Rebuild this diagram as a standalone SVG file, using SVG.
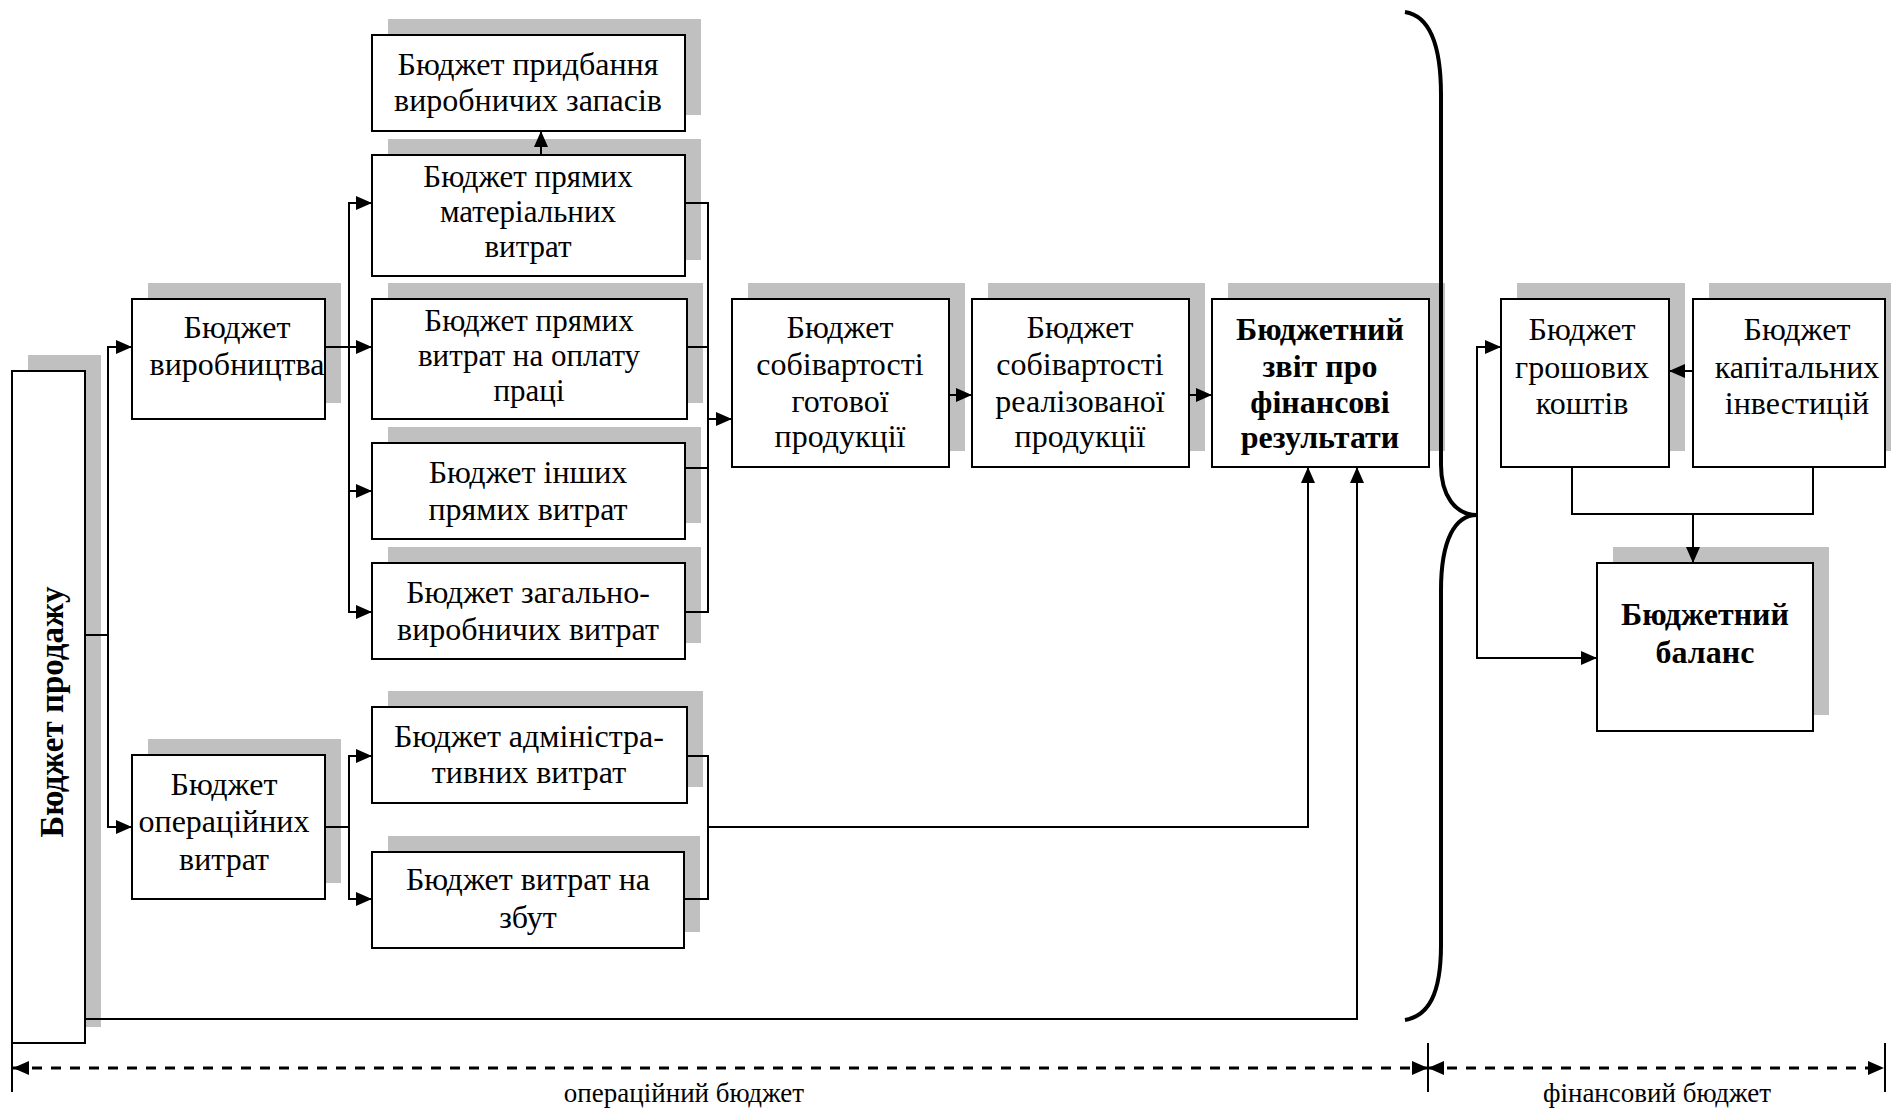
<svg xmlns="http://www.w3.org/2000/svg" width="1891" height="1109" viewBox="0 0 1891 1109">
<style>
.sh{fill:#c0c0c0;stroke:none}
.bx{fill:#fff;stroke:#000;stroke-width:2}
.t{font-family:"Liberation Serif","Times New Roman",serif;font-size:32px;fill:#000;text-anchor:middle}
.s{font-size:31px}
.b{font-weight:bold}
.c{fill:none;stroke:#000;stroke-width:2}
.a{fill:none;stroke:#000;stroke-width:2;marker-end:url(#ar)}
.d{fill:none;stroke:#000;stroke-width:3;stroke-dasharray:10 9;marker-start:url(#ar2);marker-end:url(#ar2)}
.lb{font-family:"Liberation Serif","Times New Roman",serif;font-size:27px;fill:#000;text-anchor:middle}
</style>
<defs>
<marker id="ar" markerUnits="userSpaceOnUse" markerWidth="16" markerHeight="16" viewBox="0 0 16 16" refX="16" refY="8" orient="auto"><path d="M0 1 L16 8 L0 15 Z" fill="#000"/></marker>
<marker id="ar2" markerUnits="userSpaceOnUse" markerWidth="16" markerHeight="16" viewBox="0 0 16 16" refX="16" refY="8" orient="auto-start-reverse"><path d="M0 1 L16 8 L0 15 Z" fill="#000"/></marker>
</defs>

<g id="n-prodazhu"><rect class="sh" x="28" y="355" width="73" height="672"/><rect class="bx" x="12" y="371" width="73" height="672"/><text class="t b" transform="translate(63,712) rotate(-90)" style="font-size:33px">Бюджет продажу</text></g>

<g id="n-vyrobnytstva"><rect class="sh" x="148" y="283" width="193" height="120"/><rect class="bx" x="132" y="299" width="193" height="120"/><text class="t"><tspan x="237" y="338">Бюджет</tspan><tspan x="237" y="375">виробництва</tspan></text></g>

<g id="n-operatsiini"><rect class="sh" x="148" y="739" width="193" height="144"/><rect class="bx" x="132" y="755" width="193" height="144"/><text class="t"><tspan x="224" y="795">Бюджет</tspan><tspan x="224" y="832">операційних</tspan><tspan x="224" y="870">витрат</tspan></text></g>

<g id="n-prydbannia"><rect class="sh" x="388" y="19" width="313" height="96"/><rect class="bx" x="372" y="35" width="313" height="96"/><text class="t"><tspan x="528" y="75">Бюджет придбання</tspan><tspan x="528" y="111">виробничих запасів</tspan></text></g>

<g id="n-materialni"><rect class="sh" x="388" y="139" width="313" height="121"/><rect class="bx" x="372" y="155" width="313" height="121"/><text class="t s"><tspan x="528" y="187">Бюджет прямих</tspan><tspan x="528" y="222">матеріальних</tspan><tspan x="528" y="257">витрат</tspan></text></g>

<g id="n-oplata"><rect class="sh" x="388" y="283" width="315" height="120"/><rect class="bx" x="372" y="299" width="315" height="120"/><text class="t s"><tspan x="529" y="331">Бюджет прямих</tspan><tspan x="529" y="366">витрат на оплату</tspan><tspan x="529" y="401">праці</tspan></text></g>

<g id="n-inshi"><rect class="sh" x="388" y="427" width="313" height="96"/><rect class="bx" x="372" y="443" width="313" height="96"/><text class="t"><tspan x="528" y="483">Бюджет інших</tspan><tspan x="528" y="520">прямих витрат</tspan></text></g>

<g id="n-zahalno"><rect class="sh" x="388" y="547" width="313" height="96"/><rect class="bx" x="372" y="563" width="313" height="96"/><text class="t"><tspan x="528" y="603">Бюджет загально-</tspan><tspan x="528" y="640">виробничих витрат</tspan></text></g>

<g id="n-admin"><rect class="sh" x="388" y="691" width="315" height="96"/><rect class="bx" x="372" y="707" width="315" height="96"/><text class="t"><tspan x="529" y="747">Бюджет адміністра-</tspan><tspan x="529" y="783">тивних витрат</tspan></text></g>

<g id="n-zbut"><rect class="sh" x="388" y="836" width="312" height="96"/><rect class="bx" x="372" y="852" width="312" height="96"/><text class="t"><tspan x="528" y="890">Бюджет витрат на</tspan><tspan x="528" y="928">збут</tspan></text></g>

<g id="n-gotova"><rect class="sh" x="748" y="283" width="217" height="168"/><rect class="bx" x="732" y="299" width="217" height="168"/><text class="t"><tspan x="840" y="338">Бюджет</tspan><tspan x="840" y="375">собівартості</tspan><tspan x="840" y="412">готової</tspan><tspan x="840" y="447">продукції</tspan></text></g>

<g id="n-realizovana"><rect class="sh" x="988" y="283" width="217" height="168"/><rect class="bx" x="972" y="299" width="217" height="168"/><text class="t"><tspan x="1080" y="338">Бюджет</tspan><tspan x="1080" y="375">собівартості</tspan><tspan x="1080" y="412">реалізованої</tspan><tspan x="1080" y="447">продукції</tspan></text></g>

<g id="n-zvit"><rect class="sh" x="1228" y="283" width="217" height="168"/><rect class="bx" x="1212" y="299" width="217" height="168"/><text class="t b"><tspan x="1320" y="340">Бюджетний</tspan><tspan x="1320" y="377">звіт про</tspan><tspan x="1320" y="413">фінансові</tspan><tspan x="1320" y="448">результати</tspan></text></g>

<g id="n-hroshovi"><rect class="sh" x="1517" y="283" width="168" height="168"/><rect class="bx" x="1501" y="299" width="168" height="168"/><text class="t"><tspan x="1582" y="340">Бюджет</tspan><tspan x="1582" y="378">грошових</tspan><tspan x="1582" y="414">коштів</tspan></text></g>

<g id="n-kapitalni"><rect class="sh" x="1709" y="283" width="192" height="168"/><rect class="bx" x="1693" y="299" width="192" height="168"/><text class="t"><tspan x="1797" y="340">Бюджет</tspan><tspan x="1797" y="378">капітальних</tspan><tspan x="1797" y="414">інвестицій</tspan></text></g>

<g id="n-balans"><rect class="sh" x="1613" y="547" width="216" height="168"/><rect class="bx" x="1597" y="563" width="216" height="168"/><text class="t b"><tspan x="1705" y="625">Бюджетний</tspan><tspan x="1705" y="663">баланс</tspan></text></g>

<g id="connectors">
<path class="c" d="M85 635 H108"/>
<path class="a" d="M108 635 V347 H132"/>
<path class="a" d="M108 635 V827 H132"/>
<path class="c" d="M325 347 H349"/>
<path class="a" d="M349 347 V203 H372"/>
<path class="a" d="M349 347 H372"/>
<path class="a" d="M349 347 V491 H372"/>
<path class="a" d="M349 491 V612 H372"/>
<path class="a" d="M541 155 V131"/>
<path class="c" d="M685 203 H708 V612 H685"/>
<path class="c" d="M687 347 H708"/>
<path class="c" d="M685 468 H708"/>
<path class="a" d="M708 419 H732"/>
<path class="c" d="M325 827 H349"/>
<path class="a" d="M349 827 V756 H372"/>
<path class="a" d="M349 827 V899 H372"/>
<path class="c" d="M687 756 H708 V899 H684"/>
<path class="a" d="M708 827 H1308 V467"/>
<path class="a" d="M85 1019 H1357 V467"/>
<path class="a" d="M949 395 H972"/>
<path class="a" d="M1189 395 H1212"/>
<path fill="none" stroke="#000" stroke-width="4" d="M1405 12 C1430 16 1441 45 1441 95 V465 C1441 495 1455 515 1477 515 C1455 515 1441 540 1441 590 V945 C1441 995 1428 1016 1405 1020"/>
<path class="a" d="M1477 515 V347 H1501"/>
<path class="a" d="M1477 515 V658 H1597"/>
<path class="a" d="M1693 371 H1669"/>
<path class="c" d="M1572 467 V514 H1813 V467"/>
<path class="a" d="M1693 514 V563"/>
<path class="c" d="M12 1043 V1092 M1428 1043 V1092 M1885 1043 V1092"/>
<path class="d" d="M13 1068 H1428"/>
<path class="d" d="M1428 1068 H1884"/>
</g>
<text class="lb" x="684" y="1102">операційний бюджет</text>
<text class="lb" x="1657" y="1102">фінансовий бюджет</text>
</svg>
